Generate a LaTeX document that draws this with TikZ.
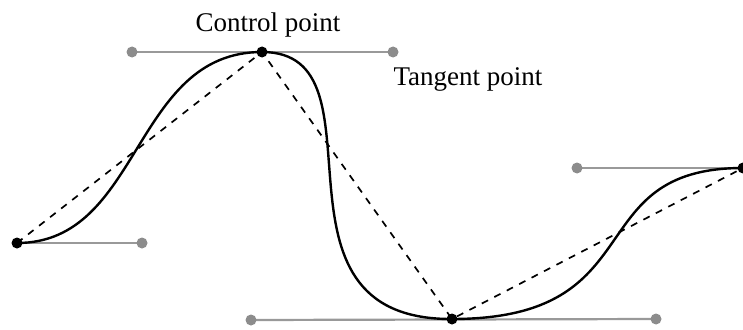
\documentclass[tikz,border=0pt]{standalone}
\usepackage{fontspec}
\setmainfont{Liberation Serif}
\begin{document}
\begin{tikzpicture}[x=1pt,y=-1pt,
  anchorpt/.style={circle,fill=black,inner sep=0pt,minimum size=11pt},
  handlept/.style={circle,fill=gray!90,inner sep=0pt,minimum size=11pt},
  handle/.style={draw=gray!80,line width=2.2pt},
  curve/.style={draw=black,line width=2.4pt},
  chord/.style={draw=black,line width=1.7pt,dash pattern=on 7pt off 7pt},
  lbl/.style={font=\fontsize{27}{30}\selectfont,anchor=base,inner sep=0pt}]
\useasboundingbox (0,0) rectangle (743,329);
\coordinate (A) at (17,243);
\coordinate (B) at (262,52);
\coordinate (C) at (452,319);
\coordinate (D) at (743,168);
\coordinate (A2) at (142,243);
\coordinate (B1) at (132,52);
\coordinate (B2) at (393,52);
\coordinate (C1) at (251,320);
\coordinate (C2) at (656,319);
\coordinate (D1) at (577,168);
% handles
\draw[handle] (A) -- (A2);
\draw[handle] (B1) -- (B2);
\draw[handle] (C1) -- (C2);
\draw[handle] (D1) -- (D);
\node[handlept] (a2) at (A2) {};
\node[handlept] (b1) at (B1) {};
\node[handlept] (b2) at (B2) {};
\node[handlept] (c1) at (C1) {};
\node[handlept] (c2) at (C2) {};
\node[handlept] (d1) at (D1) {};
% chords
\draw[chord] (A) -- (B) -- (C) -- (D);
% curve
\draw[curve] (A) .. controls (A2) and (B1) .. (B)
  .. controls (B2) and (C1) .. (C)
  .. controls (C2) and (D1) .. (D);
\node[anchorpt] (a) at (A) {};
\node[anchorpt] (b) at (B) {};
\node[anchorpt] (c) at (C) {};
\node[anchorpt] (d) at (D) {};
\node[lbl] (cp) at (268,32) {Control point};
\node[lbl] (tp) at (468,85) {Tangent point};
\end{tikzpicture}
\end{document}
